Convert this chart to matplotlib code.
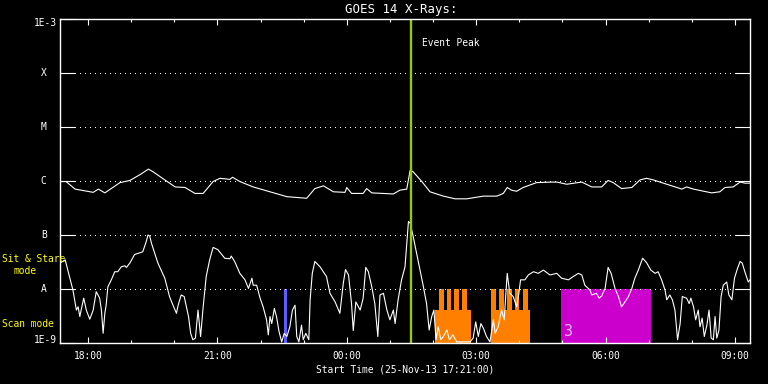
import matplotlib
matplotlib.use("Agg")
import matplotlib.pyplot as plt
import matplotlib.transforms as mtransforms
from matplotlib.ticker import FixedLocator, NullLocator, NullFormatter

# ---------------- data ----------------
# time axis: hours after start time 25-Nov-13 17:21:00
x_range = [0.0, 16.0]
xtick_hours = [0.65, 3.65, 6.65, 9.65, 12.65, 15.65]
xtick_labels = ["18:00", "21:00", "00:00", "03:00", "06:00", "09:00"]
xminor_hours = [1.65, 2.65, 4.65, 5.65, 7.65, 8.65, 10.65, 11.65, 13.65, 14.65]

y_levels = [1e-9, 1e-8, 1e-7, 1e-6, 1e-5, 1e-4, 1e-3]
y_labels = ["1E-9", "A", "B", "C", "M", "X", "1E-3"]

# GOES long channel (1-8 A), log10 flux
long_t = [0.00, 0.14, 0.35, 0.77, 0.89, 1.04, 1.39, 1.62, 1.86, 2.05, 2.16, 2.43, 2.67,
          2.90, 3.13, 3.32, 3.55, 3.71, 3.94, 4.00, 4.17, 4.48, 4.87, 5.26, 5.72, 5.91,
          6.11, 6.34, 6.61, 6.65, 6.76, 7.03, 7.11, 7.23, 7.73, 7.88, 8.04, 8.12, 8.19,
          8.39, 8.58, 8.89, 9.16, 9.43, 9.82, 10.13, 10.28, 10.37, 10.47, 10.59, 10.74,
          11.05, 11.40, 11.52, 11.75, 12.10, 12.33, 12.56, 12.71, 12.83, 13.02, 13.26,
          13.45, 13.60, 13.76, 14.07, 14.42, 14.53, 14.69, 15.11, 15.30, 15.42, 15.61,
          15.77, 15.88, 16.00]
long_log = [-6.01, -6.01, -6.15, -6.21, -6.15, -6.22, -6.03, -5.99, -5.88, -5.78, -5.83,
            -5.98, -6.11, -6.12, -6.23, -6.23, -6.01, -5.95, -5.97, -5.93, -6.01, -6.11,
            -6.20, -6.29, -6.32, -6.14, -6.09, -6.20, -6.21, -6.12, -6.23, -6.23, -6.14,
            -6.22, -6.24, -6.17, -6.15, -5.80, -5.83, -6.01, -6.20, -6.28, -6.33, -6.33,
            -6.28, -6.28, -6.23, -6.12, -6.17, -6.19, -6.12, -6.03, -6.02, -6.02, -6.06,
            -6.02, -6.11, -6.11, -5.99, -6.03, -6.14, -6.12, -5.98, -5.95, -5.98, -6.06,
            -6.15, -6.11, -6.15, -6.22, -6.20, -6.12, -6.11, -6.02, -6.04, -6.04]

# GOES short channel (0.5-4 A), log10 flux
short_t = [0.00, 0.12, 0.22, 0.30, 0.38, 0.42, 0.46, 0.49, 0.55, 0.61, 0.69, 0.77, 0.84,
           0.92, 0.96, 1.00, 1.04, 1.07, 1.11, 1.19, 1.27, 1.34, 1.42, 1.50, 1.54, 1.62,
           1.73, 1.85, 1.92, 2.00, 2.04, 2.08, 2.12, 2.27, 2.43, 2.54, 2.62, 2.70, 2.74,
           2.81, 2.88, 2.93, 2.98, 3.03, 3.08, 3.14, 3.20, 3.26, 3.32, 3.39, 3.47, 3.55,
           3.66, 3.82, 3.94, 3.97, 4.05, 4.17, 4.29, 4.37, 4.45, 4.48, 4.56, 4.64, 4.71,
           4.79, 4.83, 4.87, 4.91, 4.97, 5.02, 5.08, 5.14, 5.20, 5.26, 5.33, 5.39, 5.45,
           5.49, 5.54, 5.60, 5.64, 5.70, 5.77, 5.80, 5.85, 5.91, 6.03, 6.18, 6.26, 6.38,
           6.49, 6.57, 6.62, 6.69, 6.76, 6.80, 6.86, 6.96, 7.03, 7.09, 7.15, 7.23, 7.30,
           7.37, 7.42, 7.50, 7.58, 7.65, 7.73, 7.77, 7.84, 7.92, 8.00, 8.08, 8.12, 8.19,
           8.27, 8.35, 8.42, 8.50, 8.56, 8.62, 8.67, 8.72, 8.77, 8.83, 8.89, 8.97, 9.03,
           9.11, 9.20, 9.35, 9.51, 9.58, 9.64, 9.70, 9.76, 9.82, 9.89, 9.97, 10.05, 10.09,
           10.16, 10.24, 10.30, 10.37, 10.43, 10.51, 10.59, 10.64, 10.68, 10.78, 10.86,
           10.98, 11.09, 11.21, 11.36, 11.52, 11.63, 11.79, 11.90, 12.02, 12.10, 12.17,
           12.25, 12.29, 12.33, 12.44, 12.50, 12.56, 12.64, 12.71, 12.78, 12.87, 12.95,
           13.02, 13.10, 13.18, 13.26, 13.33, 13.41, 13.51, 13.60, 13.70, 13.80, 13.87,
           13.95, 14.03, 14.07, 14.14, 14.20, 14.26, 14.32, 14.38, 14.43, 14.53, 14.59,
           14.63, 14.69, 14.74, 14.80, 14.84, 14.89, 14.94, 15.00, 15.05, 15.10, 15.15,
           15.19, 15.23, 15.28, 15.33, 15.38, 15.46, 15.51, 15.58, 15.64, 15.71, 15.77,
           15.82, 15.88, 15.96, 16.00]
short_log = [-7.52, -7.46, -7.77, -8.02, -8.39, -8.33, -8.51, -8.39, -8.17, -8.39, -8.56,
             -8.39, -8.05, -8.17, -8.39, -8.82, -8.45, -8.30, -7.96, -7.83, -7.68, -7.68,
             -7.59, -7.57, -7.60, -7.52, -7.36, -7.33, -7.31, -7.12, -7.00, -7.02, -7.15,
             -7.52, -7.80, -8.14, -8.30, -8.45, -8.30, -8.11, -8.14, -8.33, -8.51, -8.82,
             -8.94, -8.91, -8.39, -8.88, -8.33, -7.77, -7.46, -7.23, -7.27, -7.43, -7.44,
             -7.39, -7.49, -7.71, -7.83, -7.99, -7.80, -7.93, -7.93, -8.17, -8.33, -8.57,
             -8.85, -8.51, -8.64, -8.36, -8.51, -8.79, -8.98, -8.82, -8.88, -8.70, -8.39,
             -8.30, -8.88, -8.98, -8.67, -8.94, -8.82, -8.94, -8.20, -7.71, -7.49, -7.59,
             -7.77, -8.08, -8.24, -8.45, -7.89, -7.64, -7.74, -8.27, -8.77, -8.24, -8.39,
             -8.17, -7.60, -7.68, -7.96, -8.27, -8.88, -8.11, -8.08, -8.39, -8.57, -8.39,
             -8.64, -8.20, -7.83, -7.59, -6.75, -6.78, -7.03, -7.34, -7.65, -7.93, -8.27,
             -8.76, -8.51, -8.39, -8.94, -8.70, -8.94, -8.88, -8.76, -8.94, -8.85, -8.98,
             -8.98, -8.98, -8.91, -8.61, -8.88, -8.64, -8.73, -8.88, -8.98, -8.57, -8.82,
             -8.70, -8.39, -8.57, -7.71, -8.08, -8.14, -8.33, -8.08, -7.83, -7.83, -7.74,
             -7.68, -7.71, -7.65, -7.74, -7.71, -7.80, -7.83, -7.77, -7.71, -7.74, -7.93,
             -7.99, -8.02, -8.11, -8.08, -8.17, -8.13, -7.99, -7.60, -7.71, -7.99, -8.14,
             -8.33, -8.24, -8.14, -7.99, -7.80, -7.65, -7.43, -7.51, -7.65, -7.71, -7.68,
             -7.83, -8.02, -8.20, -8.11, -8.20, -8.39, -8.94, -8.64, -8.14, -8.17, -8.27,
             -8.17, -8.33, -8.57, -8.39, -8.70, -8.54, -8.88, -8.67, -8.39, -8.91, -8.94,
             -8.51, -8.91, -8.76, -8.14, -7.93, -7.87, -8.11, -8.20, -7.80, -7.62, -7.49,
             -7.52, -7.68, -7.87, -7.83]

event_peak_hour = 8.13

# IRIS observing modes (hours after start)
sit_stare_start = [5.19, 11.62]
sit_stare_end = [5.26, 13.70]
sit_stare_colors = ["#5c5cff", "#cc00cc"]
sit_stare_top = 1e-8

scan_block_start = [8.70, 9.99]
scan_block_end = [9.52, 10.91]
scan_block_top = 4.1e-9
scan_prong_start = [8.79, 8.97, 9.14, 9.32, 9.99, 10.18, 10.36, 10.55, 10.73]
scan_prong_end = [8.90, 9.07, 9.25, 9.43, 10.10, 10.29, 10.47, 10.65, 10.85]
scan_prong_top = 1e-8

mode_label = "3"
mode_label_pos = (11.68, 1.6e-9)

# ---------------- figure ----------------
W, H = 768, 384
fig = plt.figure(figsize=(W / 100, H / 100), dpi=100, facecolor="black")
L, R, T, B = 60, 750, 19, 343
ax = fig.add_axes([L / W, 1 - B / H, (R - L) / W, (B - T) / H], facecolor="black")

FONT = "DejaVu Sans Mono"
FS = 6.9

base = 1e-9
for s, e, c in zip(sit_stare_start, sit_stare_end, sit_stare_colors):
    ax.bar(s, sit_stare_top - base, bottom=base, width=e - s, align="edge",
           color=c, linewidth=0, zorder=1)
for s, e in zip(scan_block_start, scan_block_end):
    ax.bar(s, scan_block_top - base, bottom=base, width=e - s, align="edge",
           color="#ff8000", linewidth=0, zorder=1)
for s, e in zip(scan_prong_start, scan_prong_end):
    ax.bar(s, scan_prong_top - base, bottom=base, width=e - s, align="edge",
           color="#ff8000", linewidth=0, zorder=1)

# dotted grid at flare classes
for lv in y_levels[1:-1]:
    ax.axhline(lv, color="white", lw=0.72, linestyle=(0, (1, 5)), zorder=2,
               antialiased=False)

ax.plot(long_t, [10 ** v for v in long_log], color="white", lw=0.8, zorder=3)
ax.plot(short_t, [10 ** v for v in short_log], color="white", lw=0.8, zorder=3)

ax.axvline(event_peak_hour, color="#99cc00", lw=1.7, zorder=4)

ax.text(mode_label_pos[0], mode_label_pos[1], mode_label, color="#e0b8ff",
        fontsize=11, family=FONT, ha="left", va="center", zorder=5)

ax.set_yscale("log")
ax.set_ylim(y_levels[0], y_levels[-1])
ax.set_xlim(*x_range)

for sp in ax.spines.values():
    sp.set_color("white")
    sp.set_linewidth(1.0)
    sp.set_zorder(6)

ax.xaxis.set_major_locator(FixedLocator(xtick_hours))
ax.xaxis.set_minor_locator(FixedLocator(xminor_hours))
ax.set_xticklabels(xtick_labels)
ax.tick_params(axis="x", which="major", direction="in", length=4.3, width=0.8,
               color="white", top=True, bottom=True, labelcolor="white",
               labelsize=FS, pad=6)
ax.tick_params(axis="x", which="minor", direction="in", length=2.2, width=0.8,
               color="white", top=True, bottom=True)
for lab in ax.get_xticklabels():
    lab.set_family(FONT)

ax.yaxis.set_major_locator(FixedLocator(y_levels))
ax.yaxis.set_minor_locator(NullLocator())
ax.yaxis.set_major_formatter(NullFormatter())
ax.yaxis.set_minor_formatter(NullFormatter())
ax.tick_params(axis="y", which="major", direction="in", length=10.8, width=0.8,
               color="white", left=True, right=True)

# y labels
tr = mtransforms.blended_transform_factory(fig.transFigure, ax.transData)
for lv, lab in zip(y_levels, y_labels):
    if lab.startswith("1E"):
        off = -4 if lv == y_levels[-1] else 3
        t = fig.text(57 / W, lv, lab, transform=tr, color="white", fontsize=FS,
                     family=FONT, ha="right", va="center")
        t.set_transform(tr + mtransforms.ScaledTranslation(0, off / 100, fig.dpi_scale_trans))
    else:
        fig.text(43.7 / W, lv, lab, transform=tr, color="white", fontsize=FS,
                 family=FONT, ha="center", va="center")

# title and labels
fig.text(401 / W, 1 - 9 / H, "GOES 14 X-Rays:", color="white", fontsize=8.9,
         family=FONT, ha="center", va="center")
fig.text(405 / W, 1 - 369.5 / H, "Start Time (25-Nov-13 17:21:00)", color="white",
         fontsize=FS, family=FONT, ha="center", va="center")
fig.text(421.5 / W, 1 - 43 / H, "Event Peak", color="white", fontsize=FS,
         family=FONT, ha="left", va="center")
fig.text(2 / W, 1 - 259 / H, "Sit & Stare", color="#ffff00", fontsize=FS,
         family=FONT, ha="left", va="center")
fig.text(24.5 / W, 1 - 271.5 / H, "mode", color="#ffff00", fontsize=FS,
         family=FONT, ha="center", va="center")
fig.text(2 / W, 1 - 324 / H, "Scan mode", color="#ffff00", fontsize=FS,
         family=FONT, ha="left", va="center")

fig.savefig("out.png", dpi=100, facecolor="black")
